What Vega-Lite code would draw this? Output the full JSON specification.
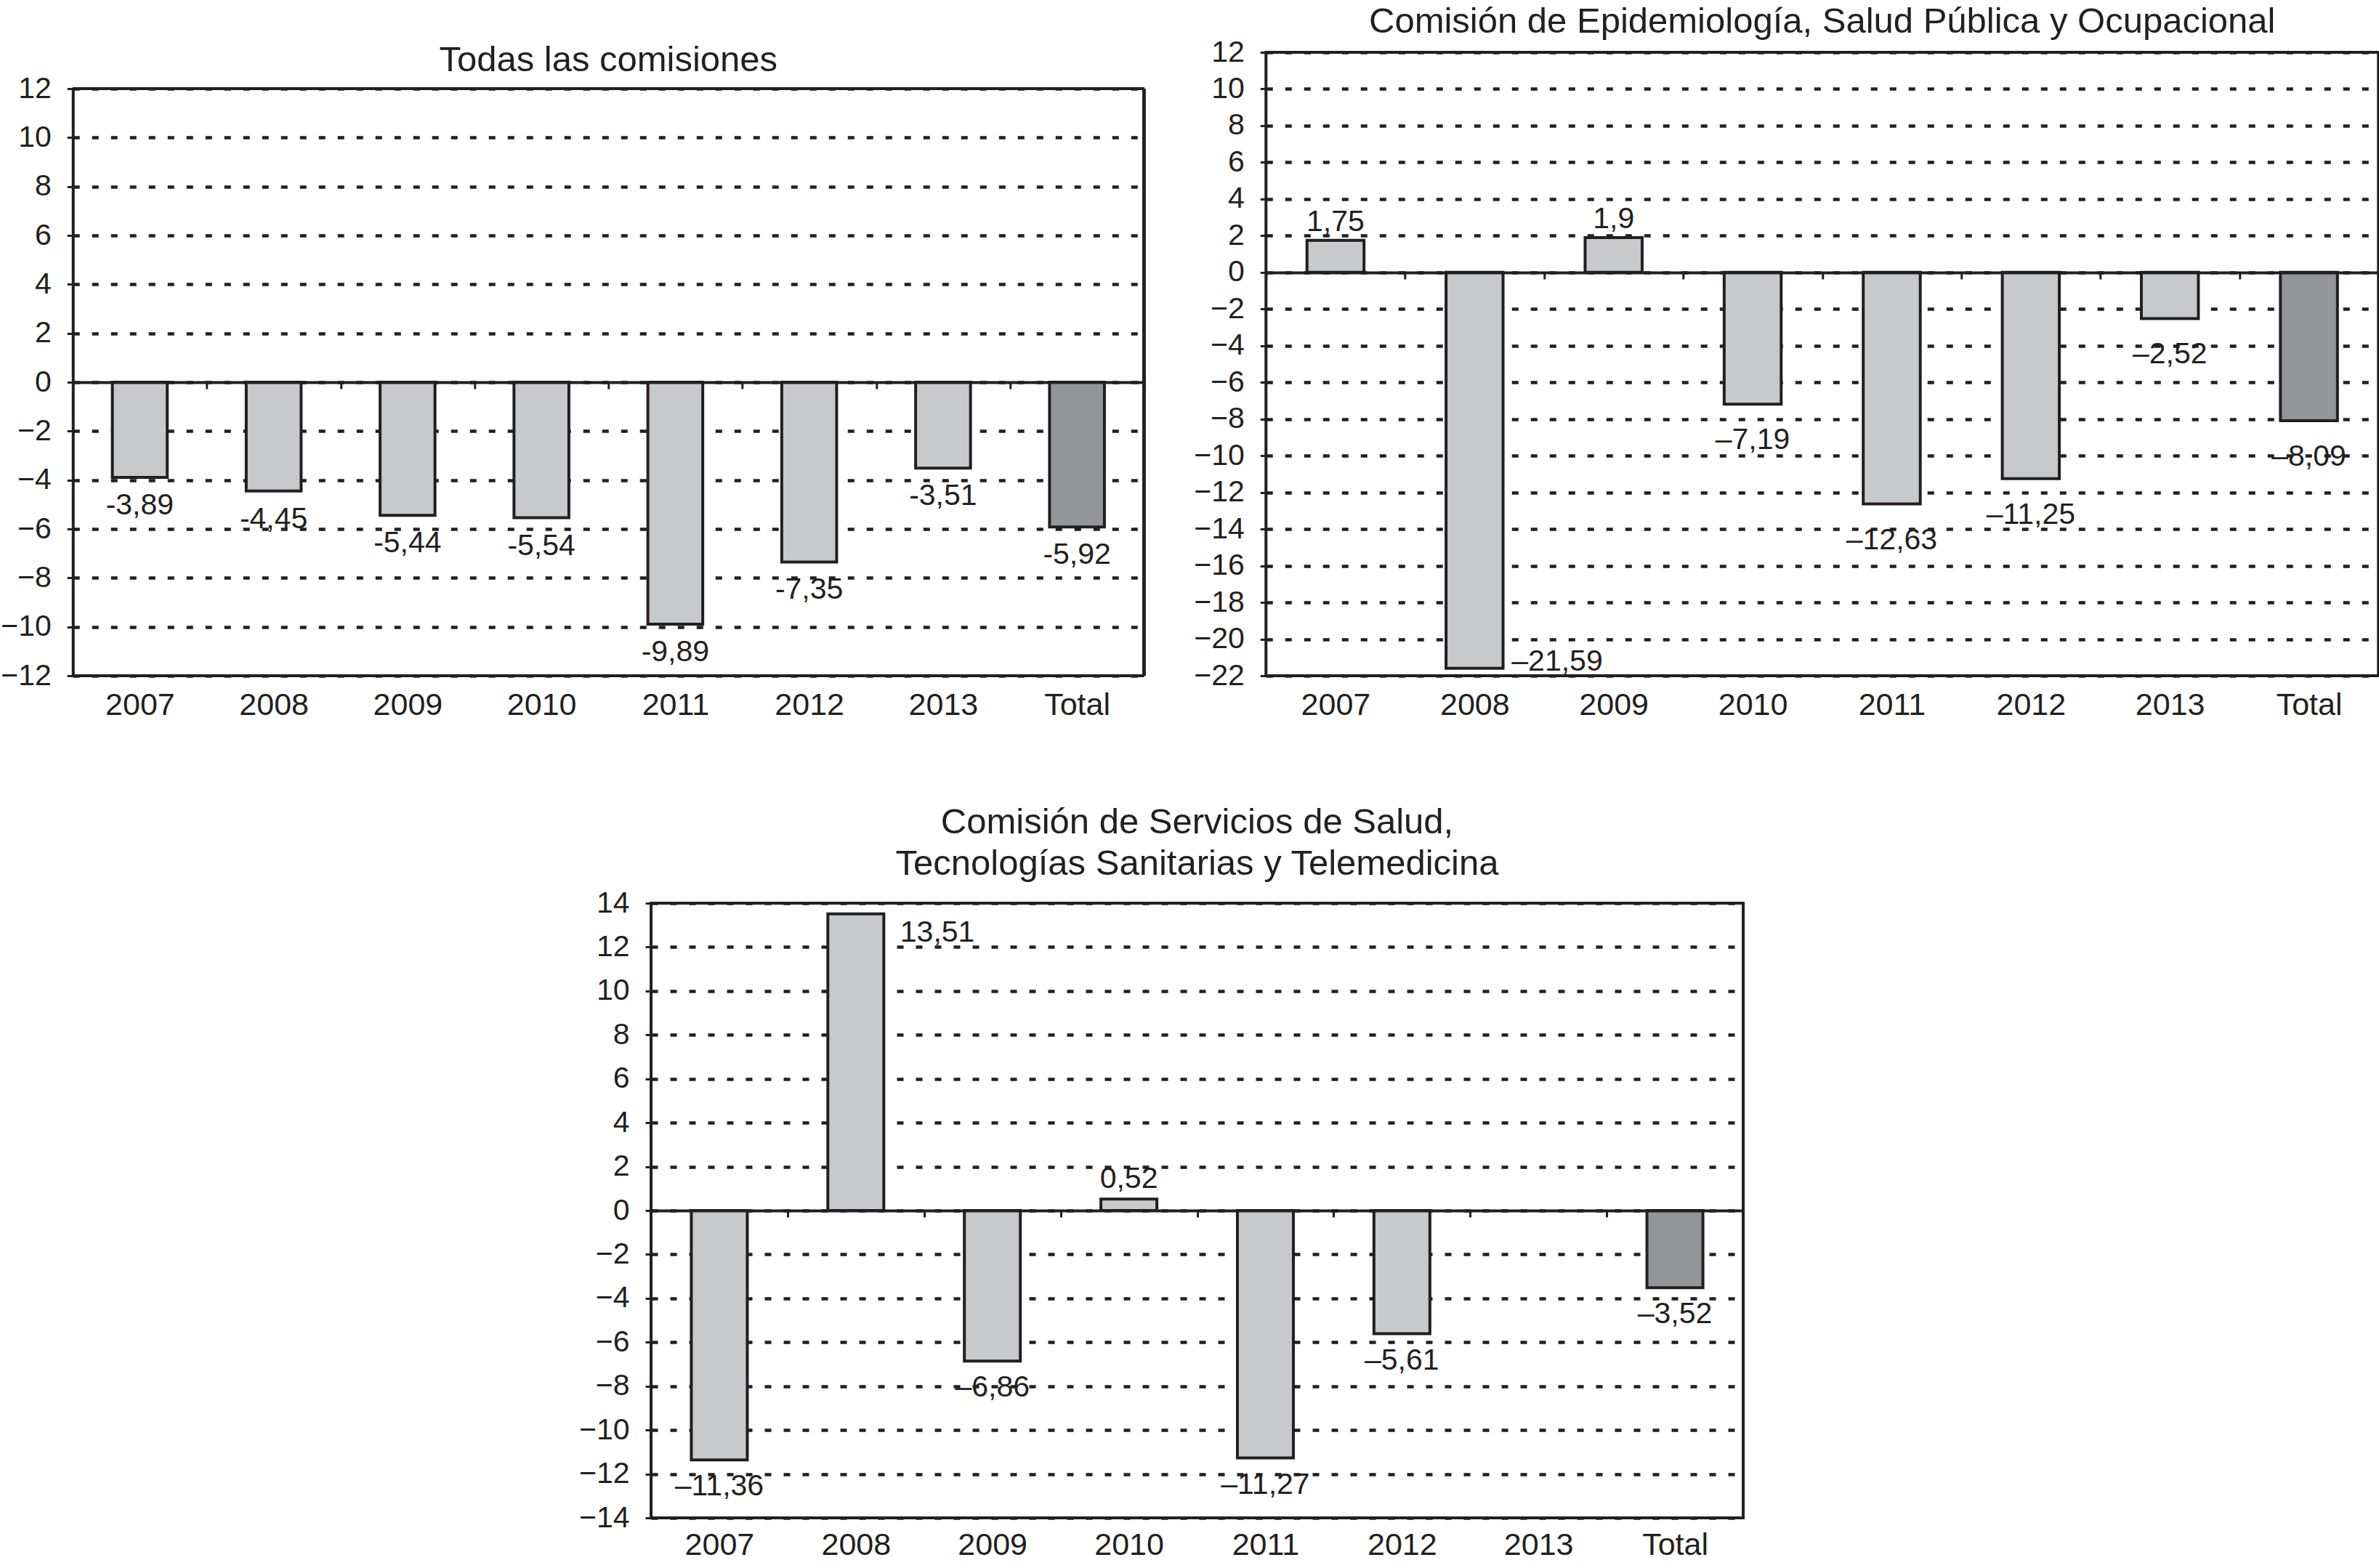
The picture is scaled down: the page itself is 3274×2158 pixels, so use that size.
{
  "$schema": "https://vega.github.io/schema/vega-lite/v6.json",
  "padding": {"left": 0, "top": 4, "right": 0, "bottom": 0},
  "background": "white",
  "datasets": {
    "d1": [
      {"year": "2007", "value": -3.89, "label": "-3,89"},
      {"year": "2008", "value": -4.45, "label": "-4,45"},
      {"year": "2009", "value": -5.44, "label": "-5,44"},
      {"year": "2010", "value": -5.54, "label": "-5,54"},
      {"year": "2011", "value": -9.89, "label": "-9,89"},
      {"year": "2012", "value": -7.35, "label": "-7,35"},
      {"year": "2013", "value": -3.51, "label": "-3,51"},
      {"year": "Total", "value": -5.92, "label": "-5,92"}
    ],
    "d2": [
      {"year": "2007", "value": 1.75, "label": "1,75"},
      {"year": "2008", "value": -21.59, "label": "–21,59"},
      {"year": "2009", "value": 1.9, "label": "1,9"},
      {"year": "2010", "value": -7.19, "label": "–7,19"},
      {"year": "2011", "value": -12.63, "label": "–12,63"},
      {"year": "2012", "value": -11.25, "label": "–11,25"},
      {"year": "2013", "value": -2.52, "label": "–2,52"},
      {"year": "Total", "value": -8.09, "label": "–8,09"}
    ],
    "d3": [
      {"year": "2007", "value": -11.36, "label": "–11,36"},
      {"year": "2008", "value": 13.51, "label": "13,51"},
      {"year": "2009", "value": -6.86, "label": "–6,86"},
      {"year": "2010", "value": 0.52, "label": "0,52"},
      {"year": "2011", "value": -11.27, "label": "–11,27"},
      {"year": "2012", "value": -5.61, "label": "–5,61"},
      {"year": "Total", "value": -3.52, "label": "–3,52"}
    ]
  },
  "spacing": 112,
  "center": true,
  "vconcat": [
    {
      "spacing": 64,
      "hconcat": [
        {
          "width": 1474,
          "height": 858,
          "data": {"name": "d1"},
          "view": {"stroke": null},
          "title": {"text": "Todas las comisiones", "offset": -36},
          "layer": [
            {
              "mark": {"type": "bar", "stroke": "#231f20", "strokeWidth": 4, "width": {"band": 0.41}},
              "encoding": {
                "x": {"field": "year", "type": "nominal", "title": null,
                  "scale": {"domain": ["2007","2008","2009","2010","2011","2012","2013","Total"], "paddingInner": 0, "paddingOuter": 0},
                  "axis": {"offset": -404, "labelPadding": 414, "zindex": 1}},
                "y": {"field": "value", "type": "quantitative", "title": null,
                  "scale": {"domain": [-12, 12], "range": [858, 50], "nice": false, "zero": false},
                  "axis": {"values": [-12,-10,-8,-6,-4,-2,0,2,4,6,8,10,12], "domain": true, "domainWidth": 4}},
                "fill": {"condition": {"test": "datum.year === 'Total'", "value": "#939598"}, "value": "#c8c9cb"}
              }
            },
            {
              "mark": {"type": "text", "baseline": "middle", "dy": 39},
              "encoding": {
                "x": {"field": "year", "type": "nominal", "title": null},
                "y": {"field": "value", "type": "quantitative", "title": null},
                "text": {"field": "label"}
              }
            },
            {
              "mark": {"type": "rule", "strokeWidth": 4, "color": "#231f20"},
              "encoding": {"y": {"datum": 12, "title": null}}
            },
            {
              "mark": {"type": "rule", "strokeWidth": 4, "color": "#231f20"},
              "encoding": {"y": {"datum": -12, "title": null}}
            },
            {
              "mark": {"type": "rule", "strokeWidth": 4, "color": "#231f20"},
              "encoding": {
                "x": {"datum": "Total", "bandPosition": 1, "title": null},
                "y": {"datum": -12, "title": null},
                "y2": {"datum": 12}
              }
            }
          ]
        },
        {
          "width": 1531,
          "height": 858,
          "data": {"name": "d2"},
          "title": {"text": "Comisión de Epidemiología, Salud Pública y Ocupacional", "offset": -4},
          "layer": [
            {
              "mark": {"type": "bar", "stroke": "#231f20", "strokeWidth": 4, "width": {"band": 0.41}},
              "encoding": {
                "x": {"field": "year", "type": "nominal", "title": null,
                  "scale": {"domain": ["2007","2008","2009","2010","2011","2012","2013","Total"], "paddingInner": 0, "paddingOuter": 0},
                  "axis": {"offset": -555, "labelPadding": 565, "zindex": 1}},
                "y": {"field": "value", "type": "quantitative", "title": null,
                  "scale": {"domain": [-22, 12], "nice": false, "zero": false},
                  "axis": {"values": [-22,-20,-18,-16,-14,-12,-10,-8,-6,-4,-2,0,2,4,6,8,10,12]}},
                "fill": {"condition": {"test": "datum.year === 'Total'", "value": "#939598"}, "value": "#c8c9cb"}
              }
            },
            {
              "transform": [{"filter": "datum.value > 0"}],
              "mark": {"type": "text", "baseline": "middle", "dy": -25},
              "encoding": {
                "x": {"field": "year", "type": "nominal", "title": null},
                "y": {"field": "value", "type": "quantitative", "title": null},
                "text": {"field": "label"}
              }
            },
            {
              "transform": [{"filter": "datum.value < 0 && datum.year !== '2008'"}],
              "mark": {"type": "text", "baseline": "middle", "dy": 50},
              "encoding": {
                "x": {"field": "year", "type": "nominal", "title": null},
                "y": {"field": "value", "type": "quantitative", "title": null},
                "text": {"field": "label"}
              }
            },
            {
              "transform": [{"filter": "datum.year === '2008'"}],
              "mark": {"type": "text", "baseline": "alphabetic", "align": "left", "dx": 51, "dy": 3},
              "encoding": {
                "x": {"field": "year", "type": "nominal", "title": null},
                "y": {"field": "value", "type": "quantitative", "title": null},
                "text": {"field": "label"}
              }
            }
          ]
        }
      ]
    },
    {
      "width": 1503,
      "height": 846,
      "data": {"name": "d3"},
      "title": {"text": ["Comisión de Servicios de Salud,", "Tecnologías Sanitarias y Telemedicina"], "offset": 8, "lineHeight": 57},
      "resolve": {"axis": {"y": "independent"}},
      "layer": [
        {
          "mark": {"type": "bar", "stroke": "#231f20", "strokeWidth": 4, "width": {"band": 0.41}},
          "encoding": {
            "x": {"field": "year", "type": "nominal", "title": null,
              "scale": {"domain": ["2007","2008","2009","2010","2011","2012","2013","Total"], "paddingInner": 0, "paddingOuter": 0},
              "axis": {"offset": -423, "labelPadding": 430, "zindex": 1}},
            "y": {"field": "value", "type": "quantitative", "title": null,
              "scale": {"domain": [-14, 14], "nice": false, "zero": false},
              "axis": {"values": [-14,-12,-10,-8,-6,-4,-2,0,2,4,6,8,10,12,14]}},
            "fill": {"condition": {"test": "datum.year === 'Total'", "value": "#939598"}, "value": "#c8c9cb"}
          }
        },
        {
          "transform": [{"filter": "datum.year === '2010'"}],
          "mark": {"type": "text", "baseline": "middle", "dy": -27},
          "encoding": {
            "x": {"field": "year", "type": "nominal", "title": null},
            "y": {"field": "value", "type": "quantitative", "title": null,
              "axis": {"orient": "right", "labels": false, "ticks": false, "domain": false, "grid": false, "minExtent": 80, "maxExtent": 80}},
            "text": {"field": "label"}
          }
        },
        {
          "transform": [{"filter": "datum.value < 0"}],
          "mark": {"type": "text", "baseline": "middle", "dy": 37},
          "encoding": {
            "x": {"field": "year", "type": "nominal", "title": null},
            "y": {"field": "value", "type": "quantitative", "title": null, "axis": null},
            "text": {"field": "label"}
          }
        },
        {
          "transform": [{"filter": "datum.year === '2008'"}],
          "mark": {"type": "text", "baseline": "top", "align": "left", "dx": 61, "dy": 6},
          "encoding": {
            "x": {"field": "year", "type": "nominal", "title": null},
            "y": {"field": "value", "type": "quantitative", "title": null, "axis": null},
            "text": {"field": "label"}
          }
        }
      ]
    }
  ],
  "config": {
    "font": "Liberation Sans",
    "view": {"stroke": "#231f20", "strokeWidth": 4},
    "axis": {"labelColor": "#231f20", "tickColor": "#231f20", "domainColor": "#231f20", "gridColor": "#231f20", "labelFont": "Liberation Sans"},
    "axisY": {"domain": false, "ticks": true, "tickSize": 8, "tickWidth": 3, "labelFontSize": 41, "labelPadding": 22, "grid": true, "gridDash": [9, 17], "gridWidth": 4.5},
    "axisX": {"domain": true, "domainWidth": 4, "ticks": true, "tickBand": "extent", "tickSize": 9, "tickWidth": 3, "labelFontSize": 43, "labelAngle": 0, "grid": false, "labelOverlap": false},
    "title": {"fontSize": 49, "fontWeight": "normal", "color": "#231f20", "baseline": "alphabetic", "frame": "group", "anchor": "middle", "font": "Liberation Sans"},
    "text": {"font": "Liberation Sans", "fontSize": 41, "color": "#231f20"}
  }
}
